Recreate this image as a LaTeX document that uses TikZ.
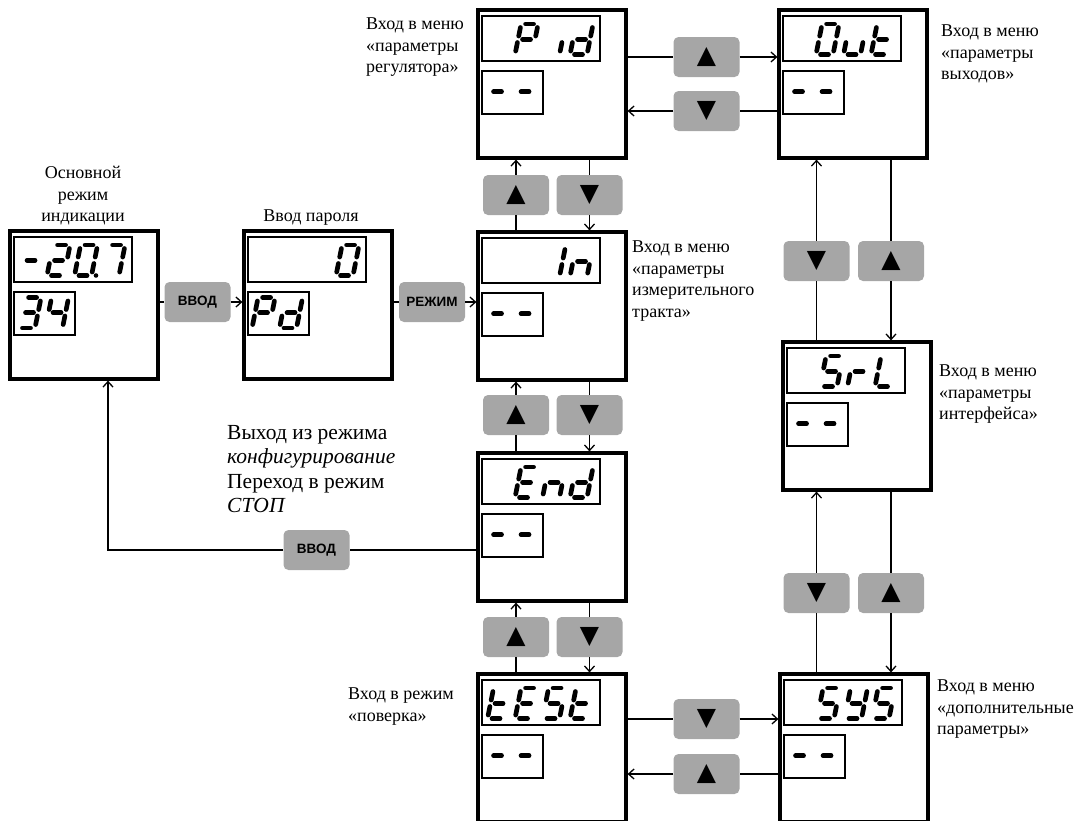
\documentclass[tikz,border=0pt]{standalone}
\usepackage{fontspec}
\setmainfont{Liberation Serif}
\newfontfamily\btnfont{Liberation Sans}
\newfontfamily\symfont{DejaVu Sans}
\usepackage{xcolor}
\usepackage{tikz}
\usetikzlibrary{arrows.meta}

\definecolor{btngray}{RGB}{166,166,166}

\tikzset{
  device/.style={draw, line width=3.2pt, minimum width=148pt, minimum height=148pt, inner sep=0pt},
  disp/.style={line width=1.3pt},
  seg/.style={line width=4.7pt, line cap=round},
  btn/.style={fill=btngray, rounded corners=5pt, minimum width=66pt, minimum height=40pt, inner sep=0pt,
    font=\btnfont\bfseries\fontsize{13.5}{15}\selectfont},
  arrbtn/.style={font=\symfont\fontsize{25}{25}\selectfont},
  lbl/.style={inner sep=0pt, align=left, font=\fontsize{18}{21.5}\selectfont},
  link/.style={line width=1.3pt},
  >={Straight Barb[length=5.5pt,width=10pt]}
}

% segments of one digit
\newcommand{\segA}{\draw[seg] (4.5,-30.5) -- (12.5,-30.5);}
\newcommand{\segB}{\draw[seg] (17,-27) -- (17,-18.5);}
\newcommand{\segC}{\draw[seg] (17,-12) -- (17,-3.5);}
\newcommand{\segD}{\draw[seg] (4.5,0) -- (12.5,0);}
\newcommand{\segE}{\draw[seg] (0,-3.5) -- (0,-12);}
\newcommand{\segF}{\draw[seg] (0,-18.5) -- (0,-27);}
\newcommand{\segG}{\draw[seg] (4.5,-15.25) -- (12.5,-15.25);}

% glyphs
\newcommand{\dgNone}{}
\newcommand{\dgDash}{\segG}
\newcommand{\dgZero}{\segA\segB\segC\segD\segE\segF}
\newcommand{\dgOne}{\segB\segC}
\newcommand{\dgTwo}{\segA\segB\segG\segE\segD}
\newcommand{\dgThree}{\segA\segB\segG\segC\segD}
\newcommand{\dgFour}{\segF\segG\segB\segC}
\newcommand{\dgSeven}{\segA\segB\segC}
\newcommand{\dgP}{\segA\segB\segF\segG\segE}
\newcommand{\dgd}{\segB\segC\segD\segE\segG}
\newcommand{\dgi}{\segC}
\newcommand{\dgn}{\segC\segE\segG}
\newcommand{\dgu}{\segC\segD\segE}
\newcommand{\dgt}{\segD\segE\segF\segG}
\newcommand{\dgE}{\segA\segD\segE\segF\segG}
\newcommand{\dgS}{\segA\segC\segD\segF\segG}
\newcommand{\dgr}{\segE\segG}
\newcommand{\dgL}{\segD\segE\segF}
\newcommand{\dgY}{\segB\segC\segD\segF\segG}

\newcommand{\digitat}[3]{%
  \begin{scope}[shift={(#1,#2)}, xslant=0.2]
    #3
  \end{scope}}

% name, x, y, upper glyphs, lower glyphs
\newcommand{\panel}[5]{%
  \node[device] (#1) at (#2+74,#3+74) {};
  \draw[disp] (#2+4,#3+6) rectangle ++(118,45);
  \draw[disp] (#2+4,#3+61) rectangle ++(61,43);
  \foreach \gl [count=\k from 0] in {#4} {\digitat{#2+9.5+27.5*\k}{#3+44.5}{\gl}}
  \foreach \gl [count=\k from 0] in {#5} {\digitat{#2+8+27.5*\k}{#3+97}{\gl}}
}

\begin{document}
\begin{tikzpicture}[x=1pt, y=-1pt]
  \useasboundingbox (0,0) rectangle (1079,820);

  % panels
  \panel{main}{10}{231}{\dgDash,\dgTwo,\dgZero,\dgSeven}{\dgThree,\dgFour}
  \fill (96,275.5) circle (2.3pt);
  \panel{pass}{244}{231}{\dgNone,\dgNone,\dgNone,\dgZero}{\dgP,\dgd}
  \panel{pid}{478}{10}{\dgNone,\dgP,\dgi,\dgd}{\dgDash,\dgDash}
  \panel{out}{779}{10}{\dgNone,\dgZero,\dgu,\dgt}{\dgDash,\dgDash}
  \panel{in}{478}{232}{\dgNone,\dgNone,\dgOne,\dgn}{\dgDash,\dgDash}
  \panel{end}{478}{453}{\dgNone,\dgE,\dgn,\dgd}{\dgDash,\dgDash}
  \panel{test}{478}{674}{\dgt,\dgE,\dgS,\dgt}{\dgDash,\dgDash}
  \panel{srl}{783}{342}{\dgNone,\dgS,\dgr,\dgL}{\dgDash,\dgDash}
  \panel{sys}{780}{674}{\dgNone,\dgS,\dgY,\dgS}{\dgDash,\dgDash}

  % buttons
  \node[btn] (enter1) at (197.5,302) {ВВОД};
  \node[btn] (mode) at (432,302) {РЕЖИМ};
  \node[btn] (enter2) at (316.5,550) {ВВОД};
  \node[btn, arrbtn] (pidup) at (706.5,57) {▲};
  \node[btn, arrbtn] (outdn) at (706.5,111) {▼};
  \node[btn, arrbtn] (up1) at (516,195) {▲};
  \node[btn, arrbtn] (dn1) at (589.5,195) {▼};
  \node[btn, arrbtn] (up2) at (516,415) {▲};
  \node[btn, arrbtn] (dn2) at (589.5,415) {▼};
  \node[btn, arrbtn] (up3) at (516,637) {▲};
  \node[btn, arrbtn] (dn3) at (589.5,637) {▼};
  \node[btn, arrbtn] (rdn1) at (816.5,261) {▼};
  \node[btn, arrbtn] (rup1) at (891,261) {▲};
  \node[btn, arrbtn] (rdn2) at (816.5,593) {▼};
  \node[btn, arrbtn] (rup2) at (891,593) {▲};
  \node[btn, arrbtn] (tdn) at (706.5,719) {▼};
  \node[btn, arrbtn] (tup) at (706.5,774) {▲};

  % connectors
  \draw[link] (main.east |- enter1) -- (enter1.west);
  \draw[link,->] (enter1.east) -- (pass.west |- enter1);
  \draw[link] (pass.east |- mode) -- (mode.west);
  \draw[link,->] (mode.east) -- (in.west |- mode);

  \draw[link] (pid.east |- pidup) -- (pidup.west);
  \draw[link,->] (pidup.east) -- (out.west |- pidup);
  \draw[link] (out.west |- outdn) -- (outdn.east);
  \draw[link,->] (outdn.west) -- (pid.east |- outdn);

  \draw[link] (in.north -| up1) -- (up1.south);
  \draw[link,->] (up1.north) -- (pid.south -| up1);
  \draw[link] (pid.south -| dn1) -- (dn1.north);
  \draw[link,->] (dn1.south) -- (in.north -| dn1);
  \draw[link] (end.north -| up2) -- (up2.south);
  \draw[link,->] (up2.north) -- (in.south -| up2);
  \draw[link] (in.south -| dn2) -- (dn2.north);
  \draw[link,->] (dn2.south) -- (end.north -| dn2);
  \draw[link] (test.north -| up3) -- (up3.south);
  \draw[link,->] (up3.north) -- (end.south -| up3);
  \draw[link] (end.south -| dn3) -- (dn3.north);
  \draw[link,->] (dn3.south) -- (test.north -| dn3);

  \draw[link] (srl.north -| rdn1) -- (rdn1.south);
  \draw[link,->] (rdn1.north) -- (out.south -| rdn1);
  \draw[link] (out.south -| rup1) -- (rup1.north);
  \draw[link,->] (rup1.south) -- (srl.north -| rup1);
  \draw[link] (sys.north -| rdn2) -- (rdn2.south);
  \draw[link,->] (rdn2.north) -- (srl.south -| rdn2);
  \draw[link] (srl.south -| rup2) -- (rup2.north);
  \draw[link,->] (rup2.south) -- (sys.north -| rup2);

  \draw[link] (test.east |- tdn) -- (tdn.west);
  \draw[link,->] (tdn.east) -- (sys.west |- tdn);
  \draw[link] (sys.west |- tup) -- (tup.east);
  \draw[link,->] (tup.west) -- (test.east |- tup);

  \coordinate (turn) at (108,550);
  \draw[link] (end.west |- enter2) -- (enter2.east);
  \draw[link,->] (enter2.west) -- (turn) -- (main.south -| turn);

  % labels
  \node[lbl, anchor=north, align=center] (mainlbl) at (83,166) {Основной\\режим\\индикации};
  \node[lbl, anchor=north] (passlbl) at (311,210) {Ввод пароля};
  \node[lbl, anchor=north west] (pidlbl) at (366,18) {Вход в меню\\«параметры\\регулятора»};
  \node[lbl, anchor=north west] (outlbl) at (941,25) {Вход в меню\\«параметры\\выходов»};
  \node[lbl, anchor=north west] (inlbl) at (632,241) {Вход в меню\\«параметры\\измерительного\\тракта»};
  \node[lbl, anchor=north west] (srllbl) at (939,365) {Вход в меню\\«параметры\\интерфейса»};
  \node[lbl, anchor=north west] (syslbl) at (937,680) {Вход в меню\\«дополнительные\\параметры»};
  \node[lbl, anchor=north west] (testlbl) at (348,688) {Вход в режим\\«поверка»};
  \node[lbl, anchor=north west, font=\fontsize{21.5}{24.5}\selectfont] (endlbl) at (227,425)
    {Выход из режима\\\textit{конфигурирование}\\Переход в режим\\\textit{СТОП}};
\end{tikzpicture}
\end{document}
